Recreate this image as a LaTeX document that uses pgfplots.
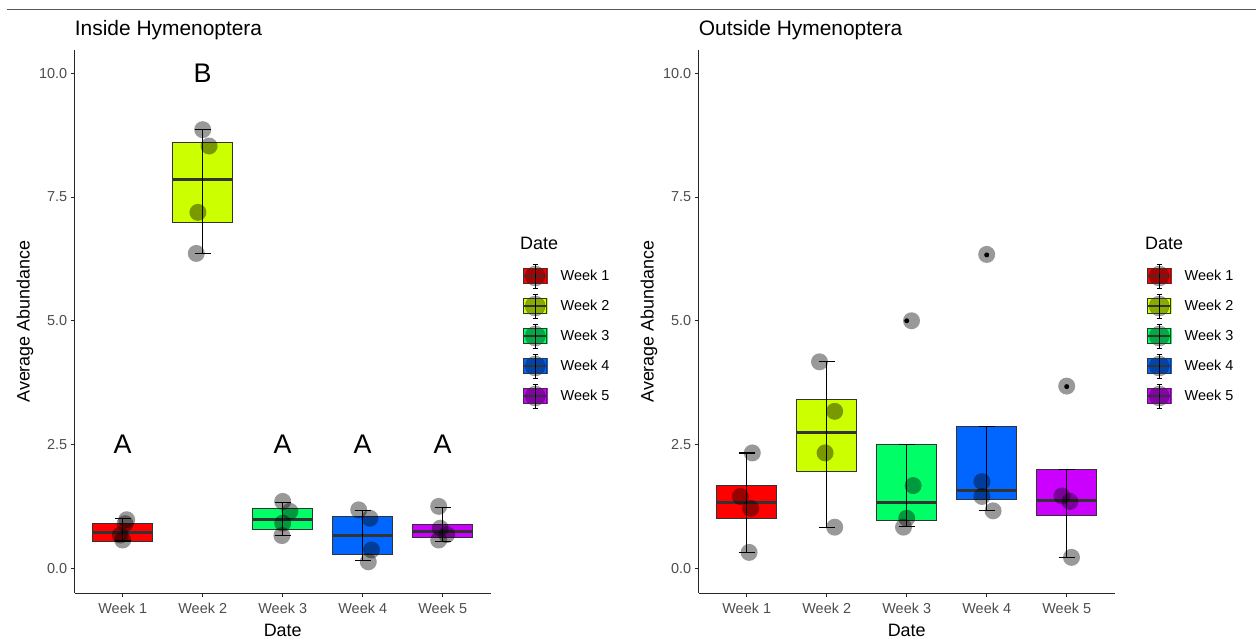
\documentclass[border=0pt]{standalone}
\usepackage{fontspec}
\setmainfont{Liberation Sans}
\usepackage{pgfplots}
\pgfplotsset{compat=1.18}
\usepgfplotslibrary{statistics}
\usepackage{pgfplotstable}

\definecolor{c1}{HTML}{FF0000}
\definecolor{c2}{HTML}{CCFF00}
\definecolor{c3}{HTML}{00FF66}
\definecolor{c4}{HTML}{0066FF}
\definecolor{c5}{HTML}{CC00FF}
\definecolor{axgray}{HTML}{4D4D4D}
\definecolor{boxline}{HTML}{333333}
\definecolor{topline}{HTML}{595959}

% whiskers: x, lower end, length
\pgfplotstableread{
x lo len zero
1 0.55 0.45 0
2 6.36 2.50 0
3 0.66 0.67 0
4 0.15 1.01 0
5 0.54 0.69 0
}\whiskIn
\pgfplotstableread{
x lo len zero
1 0.32 2.01 0
2 0.83 3.34 0
3 0.84 1.66 0
4 1.16 1.71 0
5 0.22 1.77 0
}\whiskOut
% jittered observations
\pgfplotstableread{
x y
1.05 0.98
1.03 0.90
0.97 0.67
1.00 0.57
2.00 8.86
2.08 8.53
1.94 7.19
1.92 6.36
3.00 1.35
3.09 1.15
3.00 0.91
2.99 0.66
3.95 1.18
4.09 1.01
4.11 0.37
4.07 0.13
4.95 1.25
4.97 0.81
5.05 0.68
4.95 0.57
}\ptsIn
\pgfplotstableread{
x y
1.07 2.33
0.92 1.45
1.05 1.21
1.03 0.32
1.91 4.17
2.10 3.17
1.98 2.33
2.10 0.83
3.06 5.00
3.08 1.67
3.00 1.01
2.96 0.83
4.00 6.34
3.94 1.75
3.94 1.45
4.08 1.16
5.00 3.68
4.94 1.46
5.04 1.35
5.06 0.22
}\ptsOut

\newcommand{\keydraw}[1]{%
  \fill[#1] (0bp,-7.5bp) rectangle (23bp,7.5bp);
  \fill[black, opacity=0.33] (11.5bp,0bp) circle (10bp);
  \draw[boxline, line width=0.8bp] (0bp,-7.5bp) rectangle (23bp,7.5bp);
  \draw[boxline, line width=2bp] (0bp,0bp) -- (23bp,0bp);
  \draw[black, line width=1bp] (11.5bp,-12bp) -- (11.5bp,12bp);
  \draw[black, line width=1bp] (9bp,12bp) -- (14bp,12bp) (9bp,-12bp) -- (14bp,-12bp);
}

\pgfplotsset{
  panel/.style={
    scale only axis, width=416bp, height=543bp,
    xmin=0.4, xmax=5.6, ymin=-0.5, ymax=10.47,
    axis x line*=bottom, axis y line*=left,
    axis line style={line width=1bp, draw=black!85},
    xtick={1,2,3,4,5}, xticklabels={Week 1,Week 2,Week 3,Week 4,Week 5},
    ytick={0,2.5,5,7.5,10}, yticklabels={0.0,2.5,5.0,7.5,10.0},
    tick align=outside, major tick length=4bp,
    tick style={line width=1bp, draw=black!85},
    ticklabel style={font=\fontsize{14.5}{17}\selectfont, text=axgray},
    xticklabel style={yshift=-3bp},
    xlabel={Date}, ylabel={Average Abundance},
    label style={font=\fontsize{18}{21}\selectfont, text=black},
    xlabel style={at={(axis description cs:0.5,-0.0681)}, anchor=center},
    ylabel style={at={(axis description cs:-0.1195,0.5)}, anchor=center},
    title style={at={(axis description cs:0,1)}, anchor=base west, yshift=9bp, inner sep=0pt, font=\fontsize{21}{24}\selectfont},
    clip=false,
    boxplot/draw direction=y,
    boxplot/box extend=0.75,
    boxplot/whisker extend=0,
    boxplot/every median/.style={line width=3bp, draw=boxline},
    legend cell align=left,
    legend style={draw=none, fill=none, at={(axis description cs:1.077,0.6114)}, anchor=north west,
      inner sep=0pt, outer sep=0pt, row sep=0pt, column sep=13bp,
      font=\fontsize{14.5}{17}\selectfont,
      nodes={inner sep=0pt, minimum height=30bp}, cells={anchor=west}},
  },
  bx/.style={draw=boxline, line width=0.9bp, fill=#1, forget plot},
  pts/.style={only marks, mark=*, mark size=8.5bp, mark options={draw opacity=0, fill=black, fill opacity=0.4}, forget plot},
  wsk/.style={draw=none, mark=none, forget plot, error bars/.cd, y dir=both, y explicit,
    error mark=|,
    error bar style={draw=black, line width=1.2bp},
    error mark options={draw=black, line width=1.2bp, mark size=8bp}},
}

\begin{document}
\begin{tikzpicture}
\path[use as bounding box] (0bp,0bp) rectangle (1256bp,638bp);
\draw[topline, line width=1.2bp] (7bp,628.5bp) -- (1256bp,628.5bp);

% ---------------- Inside ----------------
\begin{axis}[panel, at={(74.7bp,45bp)}, anchor=south west, title={Inside Hymenoptera}]
\addlegendimage{legend image code/.code={\keydraw{c1}}}\addlegendentry{Week 1}
\addlegendimage{legend image code/.code={\keydraw{c2}}}\addlegendentry{Week 2}
\addlegendimage{legend image code/.code={\keydraw{c3}}}\addlegendentry{Week 3}
\addlegendimage{legend image code/.code={\keydraw{c4}}}\addlegendentry{Week 4}
\addlegendimage{legend image code/.code={\keydraw{c5}}}\addlegendentry{Week 5}

\addplot[bx=c1, boxplot prepared={draw position=1, lower quartile=0.54, median=0.73, upper quartile=0.91, lower whisker=0.54, upper whisker=0.91}] coordinates {};
\addplot[bx=c2, boxplot prepared={draw position=2, lower quartile=6.98, median=7.86, upper quartile=8.61, lower whisker=6.98, upper whisker=8.61}] coordinates {};
\addplot[bx=c3, boxplot prepared={draw position=3, lower quartile=0.78, median=0.99, upper quartile=1.21, lower whisker=0.78, upper whisker=1.21}] coordinates {};
\addplot[bx=c4, boxplot prepared={draw position=4, lower quartile=0.28, median=0.66, upper quartile=1.05, lower whisker=0.28, upper whisker=1.05}] coordinates {};
\addplot[bx=c5, boxplot prepared={draw position=5, lower quartile=0.63, median=0.74, upper quartile=0.88, lower whisker=0.63, upper whisker=0.88}] coordinates {};

\addplot[pts] table[x=x, y=y] {\ptsIn};
\addplot[wsk] table[x=x, y=lo, y error plus=len, y error minus=zero] {\whiskIn};

\node[font=\fontsize{27}{30}\selectfont] at (axis cs:1,2.5) {A};
\node[font=\fontsize{27}{30}\selectfont] at (axis cs:2,10) {B};
\node[font=\fontsize{27}{30}\selectfont] at (axis cs:3,2.5) {A};
\node[font=\fontsize{27}{30}\selectfont] at (axis cs:4,2.5) {A};
\node[font=\fontsize{27}{30}\selectfont] at (axis cs:5,2.5) {A};
\node[anchor=west, inner sep=0pt, font=\fontsize{18}{21}\selectfont] at (axis description cs:1.0704,0.6446) {Date};
\end{axis}

% ---------------- Outside ----------------
\begin{axis}[panel, at={(698.7bp,45bp)}, anchor=south west, title={Outside Hymenoptera}]
\addlegendimage{legend image code/.code={\keydraw{c1}}}\addlegendentry{Week 1}
\addlegendimage{legend image code/.code={\keydraw{c2}}}\addlegendentry{Week 2}
\addlegendimage{legend image code/.code={\keydraw{c3}}}\addlegendentry{Week 3}
\addlegendimage{legend image code/.code={\keydraw{c4}}}\addlegendentry{Week 4}
\addlegendimage{legend image code/.code={\keydraw{c5}}}\addlegendentry{Week 5}

\addplot[bx=c1, boxplot prepared={draw position=1, lower quartile=1.00, median=1.33, upper quartile=1.67, lower whisker=1.00, upper whisker=1.67}] coordinates {};
\addplot[bx=c2, boxplot prepared={draw position=2, lower quartile=1.96, median=2.75, upper quartile=3.41, lower whisker=1.96, upper whisker=3.41}] coordinates {};
\addplot[bx=c3, boxplot prepared={draw position=3, lower quartile=0.96, median=1.33, upper quartile=2.50, lower whisker=0.96, upper whisker=2.50}] coordinates {};
\addplot[bx=c4, boxplot prepared={draw position=4, lower quartile=1.38, median=1.58, upper quartile=2.87, lower whisker=1.38, upper whisker=2.87}] coordinates {};
\addplot[bx=c5, boxplot prepared={draw position=5, lower quartile=1.06, median=1.37, upper quartile=1.99, lower whisker=1.06, upper whisker=1.99}] coordinates {};
% outliers
\addplot[only marks, mark=*, mark size=2.5bp, mark options={draw opacity=0, fill=black}, forget plot] coordinates {(3,5.00) (4,6.33) (5,3.67)};

\addplot[pts] table[x=x, y=y] {\ptsOut};
\addplot[wsk] table[x=x, y=lo, y error plus=len, y error minus=zero] {\whiskOut};

\node[anchor=west, inner sep=0pt, font=\fontsize{18}{21}\selectfont] at (axis description cs:1.0728,0.6446) {Date};
\end{axis}
\end{tikzpicture}
\end{document}
